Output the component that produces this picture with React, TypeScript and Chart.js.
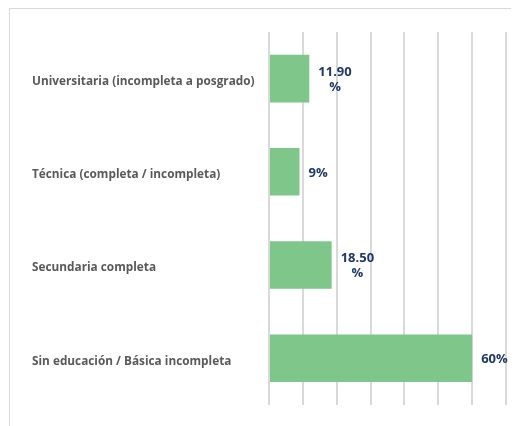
import React, { useEffect, useRef } from "react";
import { Chart, registerables } from "chart.js";

Chart.register(...registerables);

const categories = [
  "Universitaria (incompleta a posgrado)",
  "Técnica (completa / incompleta)",
  "Secundaria completa",
  "Sin educación / Básica incompleta",
];
const values = [11.9, 9, 18.5, 60];
const valueLabels = [["11.90", "%"], ["9%"], ["18.50", "%"], ["60%"]];
const axisMin = 0;
const axisMax = 70;
const axisStep = 10;

const labelPlugin = {
  id: "valueLabels",
  afterDatasetsDraw(chart: any) {
    const ctx = chart.ctx;
    const meta = chart.getDatasetMeta(0);
    ctx.save();
    ctx.font = "bold 13px 'Open Sans', sans-serif";
    ctx.fillStyle = "#1f3864";
    ctx.textAlign = "center";
    ctx.textBaseline = "middle";
    const lh = 15;
    meta.data.forEach((el: any, i: number) => {
      const lines = valueLabels[i];
      const maxW = Math.max(...lines.map((l) => ctx.measureText(l).width));
      const cx = el.x + 9 + maxW / 2;
      const y0 = el.y - ((lines.length - 1) * lh) / 2 + 1;
      lines.forEach((l, j) => ctx.fillText(l, cx, y0 + j * lh));
    });
    ctx.restore();
  },
};

export default function App() {
  const ref = useRef<HTMLCanvasElement>(null);
  useEffect(() => {
    if (!ref.current) return;
    const chart = new Chart(ref.current, {
      type: "bar",
      data: {
        labels: categories,
        datasets: [
          {
            data: values,
            backgroundColor: "#7ec689",
            borderWidth: 0,
            barPercentage: 0.51,
            categoryPercentage: 1,
          },
        ],
      },
      options: {
        indexAxis: "y",
        animation: false,
        responsive: false,
        maintainAspectRatio: false,
        layout: { padding: { left: 22, top: 23, right: 14, bottom: 16 } },
        plugins: { legend: { display: false }, tooltip: { enabled: false } },
        scales: {
          x: {
            min: axisMin,
            max: axisMax,
            ticks: { display: false, stepSize: axisStep },
            grid: { color: "#d9d9d9", lineWidth: 2, drawTicks: false },
            border: { display: false },
            afterFit: (s: any) => {
              s.height = 0;
            },
          },
          y: {
            ticks: {
              crossAlign: "far",
              color: "#595959",
              font: { family: "'Open Sans', sans-serif", size: 11.8, weight: "700" },
              padding: 14,
              labelOffset: 3,
            },
            grid: { display: false, drawTicks: false },
            border: { display: false },
            afterFit: (s: any) => {
              s.width = 237;
            },
          },
        },
      },
      plugins: [labelPlugin],
    });
    return () => chart.destroy();
  }, []);
  return (
    <div
      style={{
        width: 511,
        height: 418,
        borderTop: "1px solid #d9d9d9",
        borderLeft: "1px solid #d9d9d9",
        boxSizing: "border-box",
        marginLeft: 1,
        background: "#fff",
      }}
    >
      <canvas ref={ref} width={510} height={417} style={{ display: "block" }} />
    </div>
  );
}
